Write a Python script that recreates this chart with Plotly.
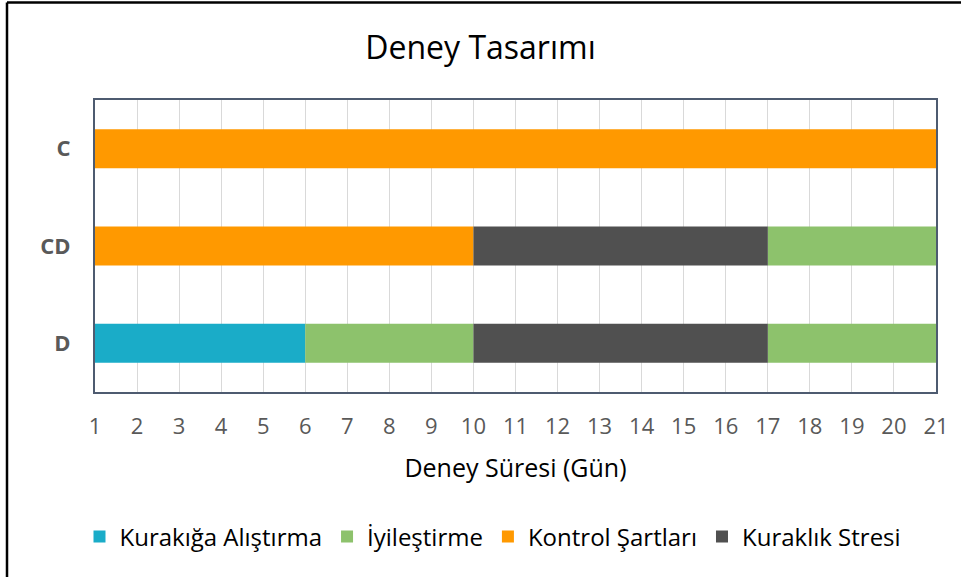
import plotly.graph_objects as go

categories = ["D", "CD", "C"]
series_names = ["Kurakığa Alıştırma", "İyileştirme", "Kontrol Şartları", "Kuraklık Stresi"]
series_colors = ["#1AACC8", "#8DC26C", "#FF9900", "#505050"]

# segments per series: category, start day, end day
kurakiga_cat = ["D"]
kurakiga_start = [1]
kurakiga_end = [6]

iyilestirme_cat = ["D", "D", "CD"]
iyilestirme_start = [6, 17, 17]
iyilestirme_end = [10, 21, 21]

kontrol_cat = ["CD", "C"]
kontrol_start = [1, 1]
kontrol_end = [10, 21]

stres_cat = ["D", "CD"]
stres_start = [10, 10]
stres_end = [17, 17]

tick_vals = list(range(1, 22))

segments = [
    (kurakiga_cat, kurakiga_start, kurakiga_end),
    (iyilestirme_cat, iyilestirme_start, iyilestirme_end),
    (kontrol_cat, kontrol_start, kontrol_end),
    (stres_cat, stres_start, stres_end),
]

FONT = "Open Sans"
fig = go.Figure()
for name, color, (cats, starts, ends) in zip(series_names, series_colors, segments):
    fig.add_trace(go.Bar(
        y=cats,
        x=[e - s for s, e in zip(starts, ends)],
        base=starts,
        orientation="h",
        name=name,
        marker=dict(color=color, line=dict(width=0)),
        width=0.4,
    ))

fig.update_layout(
    width=961, height=577,
    margin=dict(l=95, r=25, t=100, b=185, autoexpand=False),
    paper_bgcolor="white",
    plot_bgcolor="white",
    barmode="overlay",
    font=dict(family=FONT, color="#595959"),
    title=dict(text="Deney Tasarımı", x=0.5, xanchor="center", y=0.917, yanchor="middle",
               font=dict(family=FONT, size=32, color="#000000")),
    xaxis=dict(
        range=[1, 21],
        tickvals=tick_vals,
        ticktext=[str(v) for v in tick_vals],
        showgrid=True, gridcolor="#D9D9D9", gridwidth=1,
        zeroline=False,
        tickfont=dict(family=FONT, size=22, color="#595959"),
        ticks="", ticklabelstandoff=14,
        title=dict(text="Deney Süresi (Gün)", font=dict(family=FONT, size=25, color="#000000"), standoff=20),
        showline=True, linecolor="#4E5B70", linewidth=2, mirror=True,
    ),
    yaxis=dict(
        categoryorder="array", categoryarray=categories,
        range=[-0.5, 2.5],
        showgrid=False, zeroline=False,
        tickfont=dict(family=FONT, size=22, color="#595959", weight="bold"),
        ticks="", ticklabelstandoff=18,
        showline=True, linecolor="#4E5B70", linewidth=2, mirror=True,
    ),
    legend=dict(
        orientation="h", xref="container", yref="container",
        x=0.513, xanchor="center", y=1 - 537 / 577, yanchor="middle",
        font=dict(family=FONT, size=24, color="#000000"),
        traceorder="normal", itemsizing="constant", itemwidth=30,
        tracegroupgap=0,
    ),
    showlegend=True,
)

# outer chart border (left and top edges visible)
fig.add_shape(type="line", xref="paper", yref="paper",
              x0=(7 - 95) / 841, x1=(7 - 95) / 841, y0=(392 - 577) / 292, y1=(392 - 2.5) / 292,
              line=dict(color="#000000", width=2.5))
fig.add_shape(type="line", xref="paper", yref="paper",
              x0=(7 - 95) / 841, x1=(961 - 95) / 841, y0=(392 - 2.5) / 292, y1=(392 - 2.5) / 292,
              line=dict(color="#000000", width=2.5))

fig.write_html("out.html", config={"displayModeBar": False},
               post_script="document.body.style.margin='0';")
